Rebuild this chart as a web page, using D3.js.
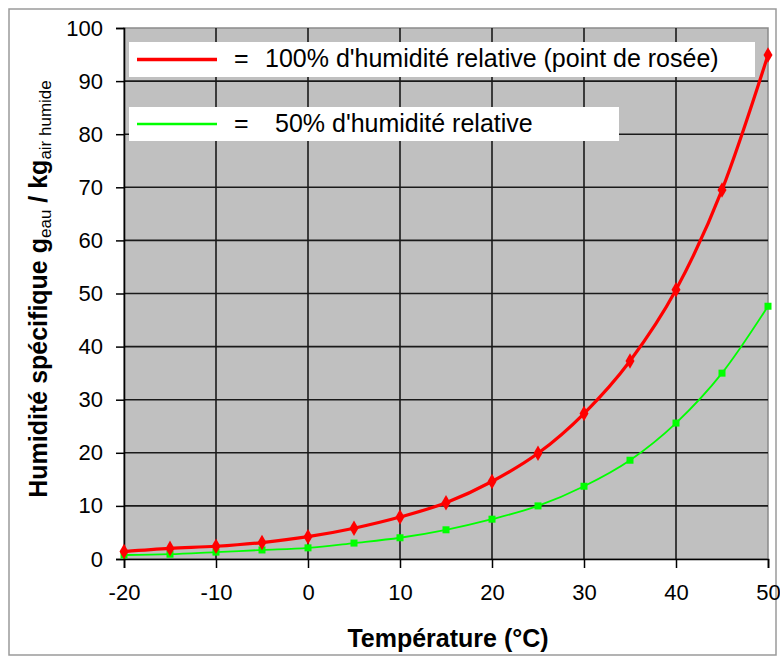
<!DOCTYPE html>
<html>
<head>
<meta charset="utf-8">
<script src="https://cdn.jsdelivr.net/npm/d3@7"></script>
<style>
  body { margin: 0; background: #fff; }
  svg text { font-family: "Liberation Sans", Arial, sans-serif; fill: #000; }
</style>
</head>
<body>
<svg id="chart"></svg>
<script>
// temperature (°C) and specific humidity (g water / kg humid air)
const temps = [-20, -15, -10, -5, 0, 5, 10, 15, 20, 25, 30, 35, 40, 45, 50];
const hum100 = [1.4, 2.0, 2.4, 3.1, 4.2, 5.8, 7.9, 10.6, 14.6, 19.9, 27.4, 37.3, 50.7, 69.5, 94.9];
const hum50 = [0.75, 0.9, 1.3, 1.7, 2.1, 3.0, 4.0, 5.5, 7.5, 10.0, 13.7, 18.6, 25.6, 35.0, 47.6];
const xTicks = [-20, -10, 0, 10, 20, 30, 40, 50];
const yTicks = [0, 10, 20, 30, 40, 50, 60, 70, 80, 90, 100];
const legendLabels = ["100% d'humidité relative (point de rosée)", "50% d'humidité relative"];

window.addEventListener("load", () => {
  const svg = d3.select("#chart").attr("width", 780).attr("height", 660);

  const left = 124, right = 768, top = 28, bottom = 559;
  const x = d3.scaleLinear().domain([-20, 50]).range([left, right]);
  const y = d3.scaleLinear().domain([0, 100]).range([bottom, top]);

  // outer frame
  svg.append("rect").attr("x", 9).attr("y", 9).attr("width", 767).attr("height", 646)
    .attr("fill", "#fff").attr("stroke", "#9a9a9a").attr("stroke-width", 1.5);

  // plot area
  svg.append("rect").attr("x", left).attr("y", top)
    .attr("width", right - left).attr("height", bottom - top)
    .attr("fill", "#c0c0c0").attr("stroke", "#8a8a8a").attr("stroke-width", 1.5);

  // grid
  svg.append("g").selectAll("line").data(yTicks.slice(1, -1)).enter().append("line")
    .attr("x1", left).attr("x2", right)
    .attr("y1", d => y(d)).attr("y2", d => y(d))
    .attr("stroke", "#1a1a1a").attr("stroke-width", 1.6);
  svg.append("g").selectAll("line").data(xTicks.slice(1, -1)).enter().append("line")
    .attr("x1", d => x(d)).attr("x2", d => x(d))
    .attr("y1", top).attr("y2", bottom)
    .attr("stroke", "#1a1a1a").attr("stroke-width", 1.6);

  // axes (plain hyphen for negatives, as in the original)
  const fmt = d => String(d);
  const xAxis = svg.append("g").attr("transform", `translate(0,${bottom})`)
    .call(d3.axisBottom(x).tickValues(xTicks).tickSize(9).tickPadding(16).tickFormat(fmt));
  const yAxis = svg.append("g").attr("transform", `translate(${left},0)`)
    .call(d3.axisLeft(y).tickValues(yTicks).tickSize(8).tickPadding(13).tickFormat(fmt));
  [xAxis, yAxis].forEach(a => {
    a.select(".domain").attr("stroke", "#000").attr("stroke-width", 1.6);
    a.selectAll(".tick line").attr("stroke", "#000").attr("stroke-width", 1.5);
    a.selectAll("text").attr("font-size", 22).attr("fill", "#000")
      .style("font-family", "'Liberation Sans', Arial, sans-serif");
  });

  // series
  const line = d3.line().x(d => x(d[0])).y(d => y(d[1])).curve(d3.curveMonotoneX);
  const redPts = temps.map((t, i) => [t, hum100[i]]);
  const greenPts = temps.map((t, i) => [t, hum50[i]]);

  svg.append("path").datum(greenPts).attr("d", line)
    .attr("fill", "none").attr("stroke", "#00ff00").attr("stroke-width", 1.8);
  svg.append("g").selectAll("rect").data(greenPts).enter().append("rect")
    .attr("x", d => x(d[0]) - 3.5).attr("y", d => y(d[1]) - 3.5)
    .attr("width", 7).attr("height", 7).attr("fill", "#00ff00");

  svg.append("path").datum(redPts).attr("d", line)
    .attr("fill", "none").attr("stroke", "#ff0000").attr("stroke-width", 3.2);
  svg.append("g").selectAll("path").data(redPts).enter().append("path")
    .attr("d", d3.symbol().type(d3.symbolDiamond).size(70))
    .attr("transform", d => `translate(${x(d[0])},${y(d[1])})`)
    .attr("fill", "#ff0000");

  // legend boxes
  const legend = [
    {label: legendLabels[0], color: "#ff0000", w: 3.5, bx: 129, by: 42, bw: 626, bh: 35, tx: 265},
    {label: legendLabels[1], color: "#00ff00", w: 2.5, bx: 129, by: 107, bw: 490, bh: 34, tx: 275}
  ];
  legend.forEach(l => {
    const g = svg.append("g");
    g.append("rect").attr("x", l.bx).attr("y", l.by).attr("width", l.bw).attr("height", l.bh)
      .attr("fill", "#fff");
    g.append("line").attr("x1", l.bx + 8).attr("x2", l.bx + 88)
      .attr("y1", l.by + l.bh / 2).attr("y2", l.by + l.bh / 2)
      .attr("stroke", l.color).attr("stroke-width", l.w);
    g.append("text").attr("x", 234).attr("y", l.by + 25).attr("font-size", 25).text("=");
    g.append("text").attr("x", l.tx).attr("y", l.by + 25).attr("font-size", 25).text(l.label);
  });

  // axis titles
  svg.append("text").attr("x", 448).attr("y", 647).attr("text-anchor", "middle")
    .attr("font-size", 25).attr("font-weight", "bold").text("Température (°C)");

  const yt = svg.append("text").attr("transform", "translate(47,289) rotate(-90)")
    .attr("text-anchor", "middle").attr("font-size", 25).attr("font-weight", "bold");
  yt.append("tspan").text("Humidité spécifique g");
  yt.append("tspan").attr("font-size", 17).attr("font-weight", "normal").attr("dy", 4).text("eau");
  yt.append("tspan").attr("dy", -4).text(" / kg");
  yt.append("tspan").attr("font-size", 17).attr("font-weight", "normal").attr("dy", 4).text("air humide");
});
</script>
</body>
</html>
